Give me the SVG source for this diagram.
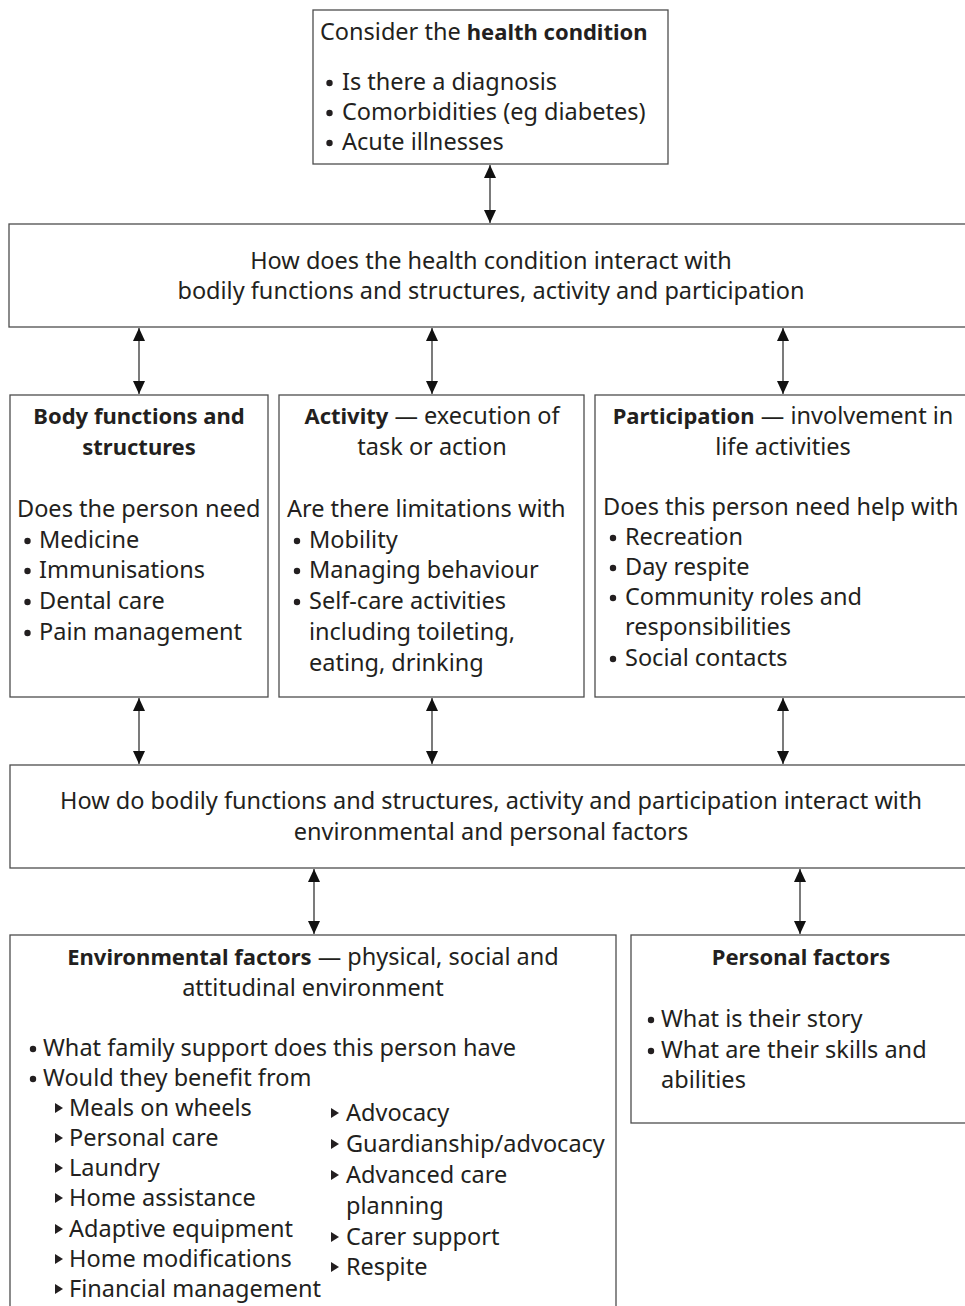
<svg xmlns="http://www.w3.org/2000/svg" width="965" height="1306" viewBox="0 0 965 1306">
<style>
.box{fill:#fff;stroke:#4d4d4d;stroke-width:1.3}
text{font-family:"Noto Sans","Open Sans",sans-serif;font-size:23.5px;fill:#231f20}
.c{text-anchor:middle}
.b{font-weight:bold;font-size:22px}
.con{stroke:#333;stroke-width:1.3;fill:none;marker-start:url(#ah);marker-end:url(#ah)}
.tri{fill:#231f20}
.dot{fill:#231f20}
</style>
<defs>
<marker id="ah" markerUnits="userSpaceOnUse" markerWidth="14" markerHeight="12" refX="13" refY="6" orient="auto-start-reverse">
<path d="M0,0 L13,6 L0,12 Z" fill="#111"/>
</marker>
</defs>
<rect width="965" height="1306" fill="#fff"/>
<g id="connectors">
<line class="con" x1="490" y1="165" x2="490" y2="223"/>
<line class="con" x1="139" y1="328" x2="139" y2="394"/>
<line class="con" x1="432" y1="328" x2="432" y2="394"/>
<line class="con" x1="783" y1="328" x2="783" y2="394"/>
<line class="con" x1="139" y1="698" x2="139" y2="764"/>
<line class="con" x1="432" y1="698" x2="432" y2="764"/>
<line class="con" x1="783" y1="698" x2="783" y2="764"/>
<line class="con" x1="314" y1="869" x2="314" y2="934"/>
<line class="con" x1="800" y1="869" x2="800" y2="934"/>
</g>
<g id="health">
<rect class="box" x="313" y="10" width="355" height="154"/>
<text x="320" y="40">Consider the <tspan class="b">health condition</tspan></text>
<circle class="dot" cx="329.5" cy="83" r="3.2"/><text x="342" y="90">Is there a diagnosis</text>
<circle class="dot" cx="329.5" cy="113" r="3.2"/><text x="342" y="120">Comorbidities (eg diabetes)</text>
<circle class="dot" cx="329.5" cy="143" r="3.2"/><text x="342" y="150">Acute illnesses</text>
</g>
<g id="interact1">
<rect class="box" x="9" y="224" width="970" height="103"/>
<text class="c" x="491" y="269">How does the health condition interact with</text>
<text class="c" x="491" y="299">bodily functions and structures, activity and participation</text>
</g>
<g id="body">
<rect class="box" x="10" y="395" width="258" height="302"/>
<text class="c b" x="139" y="424">Body functions and</text>
<text class="c b" x="139" y="455">structures</text>
<text x="17" y="517">Does the person need</text>
<circle class="dot" cx="27.5" cy="541" r="3.2"/><text x="39" y="548">Medicine</text>
<circle class="dot" cx="27.5" cy="571" r="3.2"/><text x="39" y="578">Immunisations</text>
<circle class="dot" cx="27.5" cy="602" r="3.2"/><text x="39" y="609">Dental care</text>
<circle class="dot" cx="27.5" cy="633" r="3.2"/><text x="39" y="640">Pain management</text>
</g>
<g id="activity">
<rect class="box" x="279" y="395" width="305" height="302"/>
<text class="c" x="432" y="424"><tspan class="b">Activity</tspan> — execution of</text>
<text class="c" x="432" y="455">task or action</text>
<text x="287" y="517">Are there limitations with</text>
<circle class="dot" cx="297" cy="541" r="3.2"/><text x="309" y="548">Mobility</text>
<circle class="dot" cx="297" cy="571" r="3.2"/><text x="309" y="578">Managing behaviour</text>
<circle class="dot" cx="297" cy="602" r="3.2"/><text x="309" y="609">Self-care activities</text>
<text x="309" y="640">including toileting,</text>
<text x="309" y="671">eating, drinking</text>
</g>
<g id="participation">
<rect class="box" x="595" y="395" width="385" height="302"/>
<text class="c" x="783" y="424"><tspan class="b">Participation</tspan> — involvement in</text>
<text class="c" x="783" y="455">life activities</text>
<text x="603" y="515">Does this person need help with</text>
<circle class="dot" cx="613" cy="538" r="3.2"/><text x="625" y="545">Recreation</text>
<circle class="dot" cx="613" cy="568" r="3.2"/><text x="625" y="575">Day respite</text>
<circle class="dot" cx="613" cy="598" r="3.2"/><text x="625" y="605">Community roles and</text>
<text x="625" y="635">responsibilities</text>
<circle class="dot" cx="613" cy="659" r="3.2"/><text x="625" y="666">Social contacts</text>
</g>
<g id="interact2">
<rect class="box" x="10" y="765" width="970" height="103"/>
<text class="c" x="491" y="809">How do bodily functions and structures, activity and participation interact with</text>
<text class="c" x="491" y="840">environmental and personal factors</text>
</g>
<g id="environmental">
<rect class="box" x="10" y="935" width="606" height="400"/>
<text class="c" x="313" y="965"><tspan class="b">Environmental factors</tspan> — physical, social and</text>
<text class="c" x="313" y="996">attitudinal environment</text>
<circle class="dot" cx="33" cy="1049" r="3.2"/><text x="43" y="1056">What family support does this person have</text>
<circle class="dot" cx="33" cy="1079" r="3.2"/><text x="43" y="1086">Would they benefit from</text>
<polygon class="tri" points="55,1103 63,1108 55,1113"/><text x="69" y="1116">Meals on wheels</text>
<polygon class="tri" points="55,1133 63,1138 55,1143"/><text x="69" y="1146">Personal care</text>
<polygon class="tri" points="55,1163 63,1168 55,1173"/><text x="69" y="1176">Laundry</text>
<polygon class="tri" points="55,1193 63,1198 55,1203"/><text x="69" y="1206">Home assistance</text>
<polygon class="tri" points="55,1224 63,1229 55,1234"/><text x="69" y="1237">Adaptive equipment</text>
<polygon class="tri" points="55,1254 63,1259 55,1264"/><text x="69" y="1267">Home modifications</text>
<polygon class="tri" points="55,1284 63,1289 55,1294"/><text x="69" y="1297">Financial management</text>
<polygon class="tri" points="331,1108 339,1113 331,1118"/><text x="346" y="1121">Advocacy</text>
<polygon class="tri" points="331,1139 339,1144 331,1149"/><text x="346" y="1152">Guardianship/advocacy</text>
<polygon class="tri" points="331,1170 339,1175 331,1180"/><text x="346" y="1183">Advanced care</text>
<text x="346" y="1214">planning</text>
<polygon class="tri" points="331,1232 339,1237 331,1242"/><text x="346" y="1245">Carer support</text>
<polygon class="tri" points="331,1262 339,1267 331,1272"/><text x="346" y="1275">Respite</text>
</g>
<g id="personal">
<rect class="box" x="631" y="935" width="350" height="188"/>
<text class="c b" x="801" y="965">Personal factors</text>
<circle class="dot" cx="651" cy="1020" r="3.2"/><text x="661" y="1027">What is their story</text>
<circle class="dot" cx="651" cy="1051" r="3.2"/><text x="661" y="1058">What are their skills and</text>
<text x="661" y="1088">abilities</text>
</g>
</svg>
